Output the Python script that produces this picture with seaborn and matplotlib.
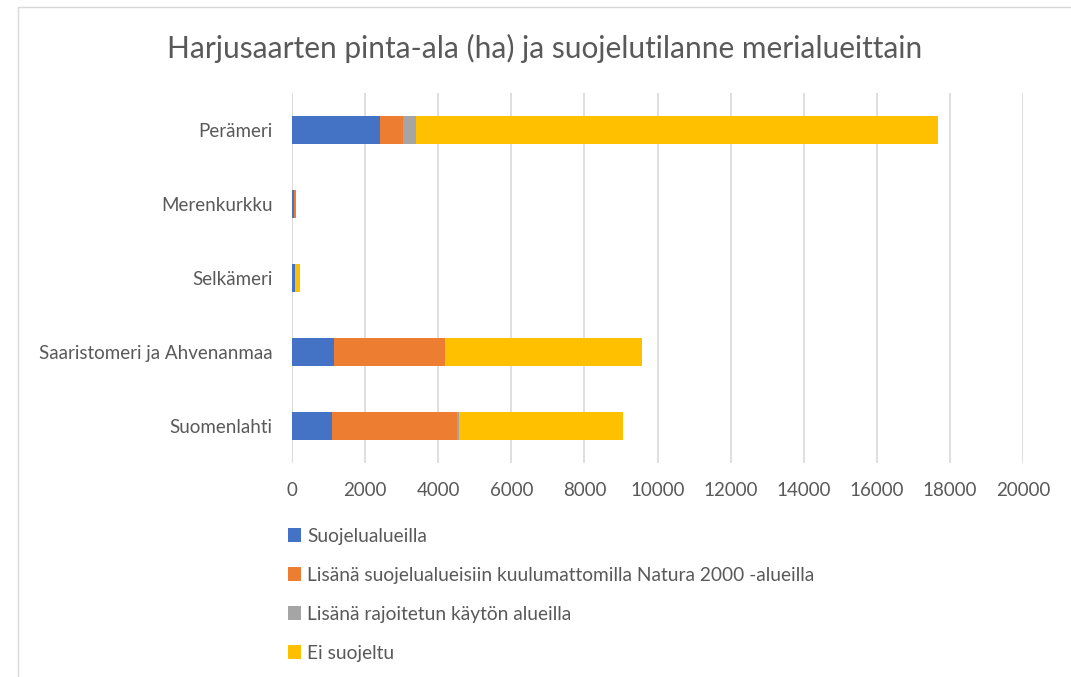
import pandas as pd
import matplotlib.pyplot as plt
import seaborn as sns
from matplotlib.patches import Patch
from matplotlib.lines import Line2D

regions = ['Perämeri', 'Merenkurkku', 'Selkämeri', 'Saaristomeri ja Ahvenanmaa', 'Suomenlahti']
suojelu = [2400, 50, 70, 1150, 1100]
natura = [650, 60, 10, 3025, 3410]
rajoitettu = [330, 0, 0, 0, 50]
ei_suojeltu = [14300, 10, 140, 5390, 4490]

series_names = ['Suojelualueilla',
                'Lisänä suojelualueisiin kuulumattomilla Natura 2000 -alueilla',
                'Lisänä rajoitetun käytön alueilla',
                'Ei suojeltu']
colors = ['#4472C4', '#ED7D31', '#A5A5A5', '#FFC000']

df = pd.DataFrame({'Alue': regions,
                   series_names[0]: suojelu,
                   series_names[1]: natura,
                   series_names[2]: rajoitettu,
                   series_names[3]: ei_suojeltu})
# cumulative sums, so the bars can be drawn on top of each other (stacked look)
cum = df[series_names].cumsum(axis=1)
cum['Alue'] = df['Alue']

sns.set_style('white')
plt.rcParams['font.family'] = ['Lato', 'DejaVu Sans']
text_col = '#595959'

fig = plt.figure(figsize=(10.71, 6.77), dpi=100)
ax = fig.add_axes([292 / 1071, 1 - 463 / 677, (1023 - 292) / 1071, 370 / 677])

for name, col in reversed(list(zip(series_names, colors))):
    sns.barplot(data=cum, y='Alue', x=name, orient='h', color=col,
                width=0.39, order=regions, ax=ax, saturation=1, linewidth=0)

ax.set_xlim(0, 20000)
ax.set_ylim(4.5, -0.5)
ax.set_xticks(range(0, 20001, 2000))
ax.set_xlabel('')
ax.set_ylabel('')
ax.xaxis.grid(True, color='#d9d9d9', linewidth=1.2)
ax.set_axisbelow(True)
for s in ax.spines.values():
    s.set_visible(False)
ax.axvline(0, color='#d9d9d9', linewidth=1.2, zorder=0)
ax.tick_params(axis='both', length=0, labelsize=13.5, colors=text_col)
ax.tick_params(axis='x', pad=14)
ax.tick_params(axis='y', pad=14)

fig.text(545 / 1071, 1 - 48 / 677, 'Harjusaarten pinta-ala (ha) ja suojelutilanne merialueittain',
         ha='center', va='center', fontsize=21.5, color=text_col)

handles = [Patch(facecolor=c, edgecolor='none') for c in colors]
fig.legend(handles, series_names, loc='upper left', bbox_to_anchor=(280 / 1071, 1 - 520 / 677),
           frameon=False, fontsize=13.8, labelcolor=text_col, handlelength=0.7, handleheight=0.7,
           handletextpad=0.3, labelspacing=1.15, borderaxespad=0)

# outer chart border
fig.add_artist(Line2D([18 / 1071, 18 / 1071], [0, 1 - 7 / 677], color='#d9d9d9', linewidth=1))
fig.add_artist(Line2D([18 / 1071, 1], [1 - 7 / 677, 1 - 7 / 677], color='#d9d9d9', linewidth=1))

fig.savefig('out.png', dpi=100)
plt.close(fig)
